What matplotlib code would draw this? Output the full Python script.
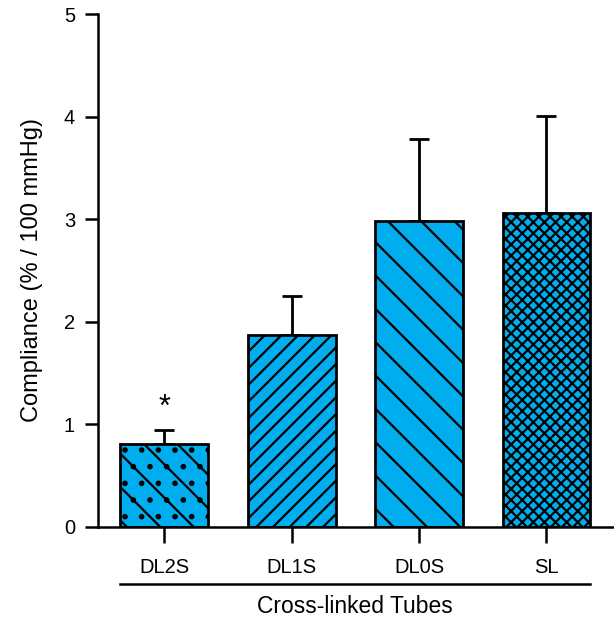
import matplotlib
matplotlib.use("Agg")
import matplotlib.pyplot as plt
import matplotlib.transforms as mtransforms
import numpy as np

plt.rcParams['font.family'] = ['Liberation Sans', 'DejaVu Sans']
plt.rcParams['hatch.linewidth'] = 1.6

groups = ['DL2S', 'DL1S', 'DL0S', 'SL']
compliance = [0.81, 1.87, 2.98, 3.06]
sd_upper = [0.14, 0.38, 0.80, 0.95]
hatches = ['\\.', '//', '\\', 'xxx']
significant = [True, False, False, False]

fig = plt.figure(figsize=(6.14, 6.19), dpi=100)
ax = fig.add_axes([98 / 614, 92 / 619, 516 / 614, 513 / 619])

x = np.arange(len(groups))
bars = ax.bar(x, compliance, width=0.69, color='#00aeef', edgecolor='black',
              linewidth=2.0, zorder=2)
for b, h in zip(bars, hatches):
    b.set_hatch(h)
ax.errorbar(x, compliance, yerr=[np.zeros(len(x)), sd_upper], fmt='none',
            ecolor='black', elinewidth=2.0, capsize=7.5, capthick=2.0, zorder=1)

for xi, v, e, s in zip(x, compliance, sd_upper, significant):
    if s:
        ax.text(xi, v + e + 0.06, '*', ha='center', va='bottom', fontsize=22)

ax.set_xlim(-0.52, 3.53)
ax.set_ylim(0, 5)
ax.set_yticks([0, 1, 2, 3, 4, 5])
ax.set_xticks(x)
ax.set_xticklabels(groups)
ax.spines['top'].set_visible(False)
ax.spines['right'].set_visible(False)
ax.spines['left'].set_linewidth(1.8)
ax.spines['bottom'].set_linewidth(1.8)
ax.spines['left'].set_bounds(0, 5)
ax.tick_params(axis='y', length=9.5, width=1.8, pad=7, labelsize=14.5)
ax.tick_params(axis='x', length=11.5, width=1.8, pad=11, labelsize=14.5)
ax.set_ylabel('Compliance (% / 100 mmHg)', fontsize=17, labelpad=15)

trans = mtransforms.blended_transform_factory(ax.transData, ax.transAxes)
ax.plot([x[0] - 0.345, x[-1] + 0.345], [-0.111, -0.111], color='black',
        linewidth=1.8, transform=trans, clip_on=False)
ax.text((x[0] + x[-1]) / 2, -0.155, 'Cross-linked Tubes', transform=trans,
        ha='center', va='center', fontsize=16.5)

fig.savefig('out.png', dpi=100)
plt.close(fig)
